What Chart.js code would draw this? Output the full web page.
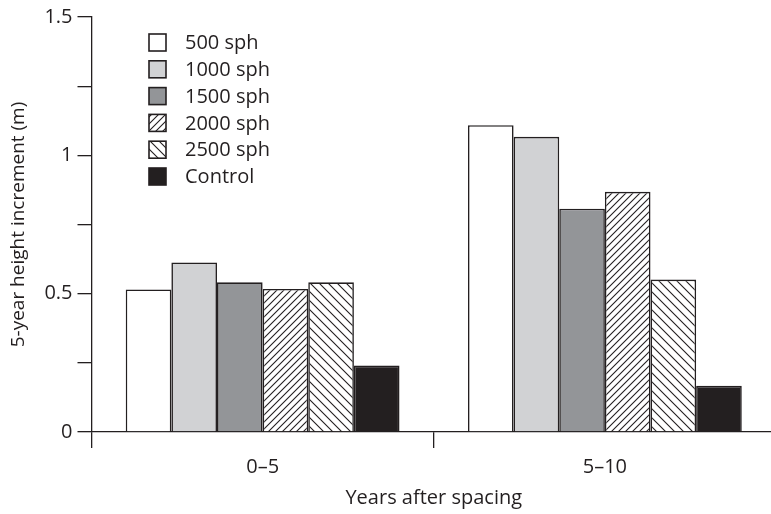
<!DOCTYPE html>
<html>
<head>
<meta charset="utf-8">
<script src="https://cdn.jsdelivr.net/npm/chart.js@4"></script>
<style>
  html, body { margin: 0; padding: 0; background: #fff; }
  #wrap { width: 771px; height: 514px; overflow: hidden; }
</style>
</head>
<body>
<div id="wrap"><canvas id="chart" width="776" height="514"></canvas></div>
<script>
const periods = ['0\u20135', '5\u201310'];
const seriesNames = ['500 sph', '1000 sph', '1500 sph', '2000 sph', '2500 sph', 'Control'];
const sph500 = [0.515, 1.109];
const sph1000 = [0.613, 1.067];
const sph1500 = [0.541, 0.807];
const sph2000 = [0.517, 0.868];
const sph2500 = [0.541, 0.551];
const control = [0.240, 0.167];

const INK = '#231f20';
const FONT = '"Open Sans", sans-serif';

// small canvas tiles for the hatched bars
function hatch(dir, size) {
    const c = document.createElement('canvas');
    c.width = size;
    c.height = size;
    const g = c.getContext('2d');
    g.fillStyle = '#fff';
    g.fillRect(0, 0, size, size);
    g.strokeStyle = INK;
    g.lineWidth = 1.1;
    g.beginPath();
    if (dir === '/') {
        g.moveTo(-1, size + 1); g.lineTo(size + 1, -1);
        g.moveTo(-1, 1); g.lineTo(1, -1);
        g.moveTo(size - 1, size + 1); g.lineTo(size + 1, size - 1);
    } else {
        g.moveTo(-1, -1); g.lineTo(size + 1, size + 1);
        g.moveTo(size - 1, -1); g.lineTo(size + 1, 1);
        g.moveTo(-1, size - 1); g.lineTo(1, size + 1);
    }
    g.stroke();
    return g.createPattern(c, 'repeat');
}

const ctx = document.getElementById('chart').getContext('2d');
const fills = ['#ffffff', '#d1d2d4', '#939598', hatch('/', 7), hatch('\\', 9), INK];
const values = [sph500, sph1000, sph1500, sph2000, sph2500, control];

const datasets = seriesNames.map((name, i) => ({
    label: name,
    data: values[i],
    backgroundColor: fills[i],
    borderColor: INK,
    borderWidth: 1.6,
    categoryPercentage: 0.8,
    barPercentage: 1.0
}));

// legend stacked in the upper left of the plot
const boxLegend = {
    id: 'boxLegend',
    afterDraw(chart) {
        const c = chart.ctx;
        const x0 = 149, y0 = 34, step = 26.8, box = 17;
        c.save();
        c.font = '20px ' + FONT;
        c.textBaseline = 'middle';
        chart.data.datasets.forEach((ds, i) => {
            const y = y0 + i * step;
            c.fillStyle = ds.backgroundColor;
            c.fillRect(x0, y, box, box);
            c.lineWidth = 1.6;
            c.strokeStyle = INK;
            c.strokeRect(x0, y, box, box);
            c.fillStyle = INK;
            c.fillText(ds.label, x0 + 36, y + box / 2 + 1);
        });
        c.restore();
    }
};

new Chart(ctx, {
    type: 'bar',
    data: { labels: periods, datasets: datasets },
    options: {
        responsive: false,
        animation: false,
        layout: { padding: { top: 13, right: 0, left: 0, bottom: 0 } },
        plugins: {
            legend: { display: false },
            tooltip: { enabled: false }
        },
        scales: {
            x: {
                offset: true,
                grid: { offset: true, drawOnChartArea: false, color: INK, lineWidth: 1.3, tickLength: 16 },
                border: { display: true, color: INK, width: 1.3 },
                ticks: { color: INK, font: { family: FONT, size: 20 }, padding: 7 },
                title: { display: true, text: 'Years after spacing', color: INK, font: { family: FONT, size: 20 }, padding: { top: 3 } },
                afterFit(scale) { scale.height = 82; }
            },
            y: {
                min: 0,
                max: 1.5,
                ticks: {
                    stepSize: 0.25,
                    color: INK,
                    font: { family: FONT, size: 20 },
                    padding: 5,
                    callback: v => (Math.abs(v * 2 - Math.round(v * 2)) < 1e-6 ? String(v) : '')
                },
                grid: { drawOnChartArea: false, color: INK, lineWidth: 1.3, tickLength: 14 },
                border: { display: true, color: INK, width: 1.3 },
                title: { display: true, text: '5-year height increment (m)', color: INK, font: { family: FONT, size: 19 }, padding: { top: 7, bottom: 1 } },
                afterFit(scale) { scale.width = 91.5; }
            }
        }
    },
    plugins: [boxLegend]
});
</script>
</body>
</html>
